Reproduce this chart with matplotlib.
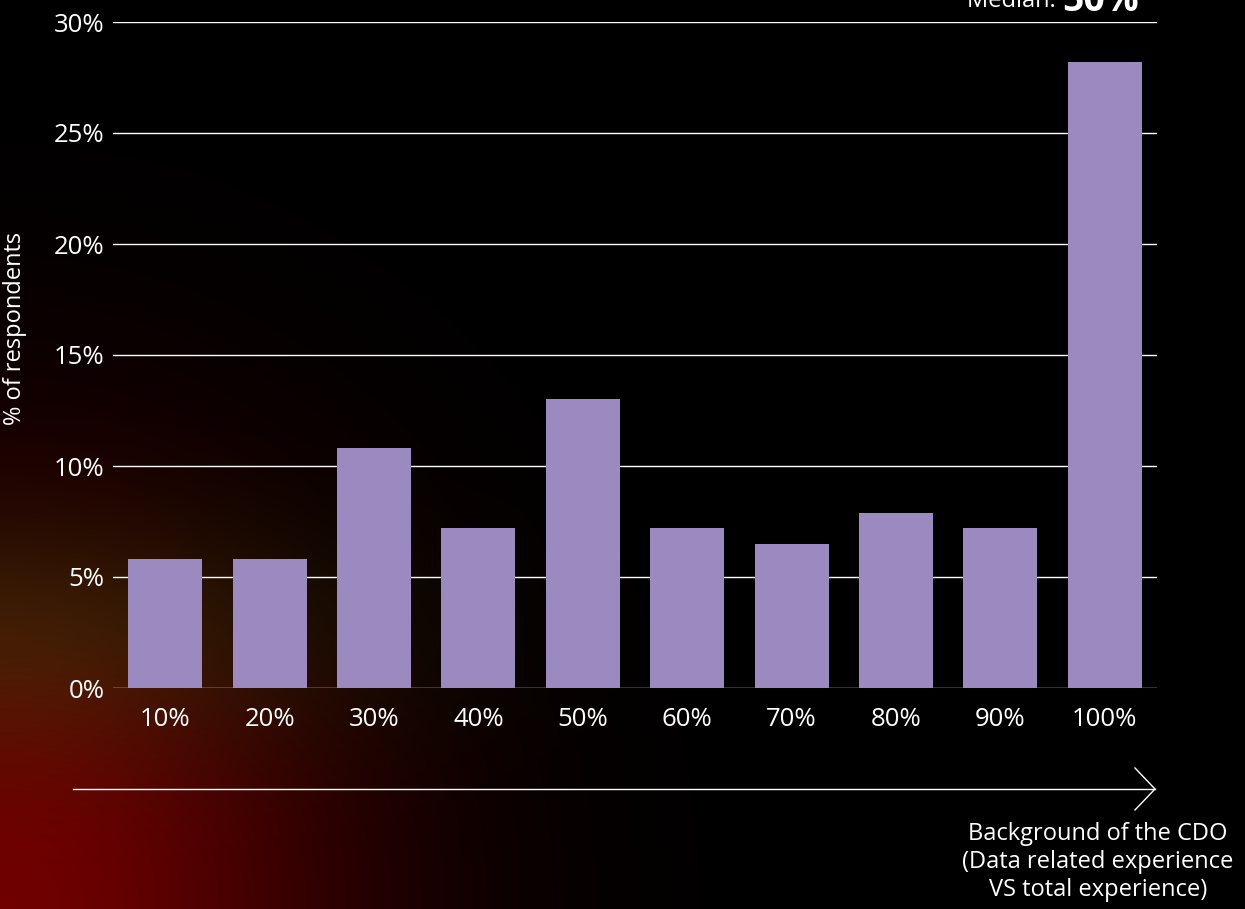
import numpy as np
import matplotlib.pyplot as plt

# data
categories = ['10%', '20%', '30%', '40%', '50%', '60%', '70%', '80%', '90%', '100%']
respondents = [5.8, 5.8, 10.8, 7.2, 13.0, 7.2, 6.5, 7.9, 7.2, 28.2]
yticks = [0, 5, 10, 15, 20, 25, 30]

plt.rcParams['font.family'] = ['Open Sans', 'DejaVu Sans']

fig = plt.figure(figsize=(12.45, 9.09), dpi=100)
fig.patch.set_facecolor('black')

# soft glow from the bottom-left corner
bg = fig.add_axes([0, 0, 1, 1])
h, w = 300, 400
u = np.linspace(0, 1, w)[None, :]
v = np.linspace(1, 0, h)[:, None]
base = np.exp(-((u / 0.28) ** 2 + (v / 0.42) ** 2))
band = np.exp(-((v - 0.33) / 0.14) ** 2)
R = 0.44 * base
G = 0.2 * base * band
B = 0.03 * base * band
img = np.dstack([R, G, B])
bg.imshow(img, extent=[0, 1, 0, 1], aspect='auto', interpolation='bilinear')
bg.set_xlim(0, 1)
bg.set_ylim(0, 1)
bg.axis('off')

ax = fig.add_axes([113 / 1245, 1 - 688 / 909, (1157 - 113) / 1245, (688 - 22) / 909])
ax.patch.set_alpha(0)
x = np.arange(len(categories))
ax.bar(x, respondents, width=0.71, color='#9b8ac0', zorder=3)
ax.set_xlim(-0.5, len(categories) - 0.5)
ax.set_ylim(0, 30)
ax.set_yticks(yticks)
ax.set_yticklabels([f'{t}%' for t in yticks])
ax.set_xticks(x)
ax.set_xticklabels(categories)
ax.yaxis.grid(True, color='white', linewidth=1, zorder=0)
ax.tick_params(axis='both', length=0, colors='white', labelsize=18.5)
ax.tick_params(axis='y', pad=6)
ax.tick_params(axis='x', pad=14)
for s in ax.spines.values():
    s.set_visible(False)
ax.set_ylabel('% of respondents', color='white', fontsize=17)
ax.yaxis.set_label_coords(-0.082, 0.54)

# arrow along the bottom
fig.add_artist(plt.Line2D([73 / 1245, 1155 / 1245], [1 - 789 / 909, 1 - 789 / 909],
                          color='white', linewidth=1))
fig.add_artist(plt.Line2D([1135 / 1245, 1155 / 1245, 1135 / 1245],
                          [1 - 768 / 909, 1 - 789 / 909, 1 - 810 / 909],
                          color='white', linewidth=1))

fig.text(1098 / 1245, 1 - 862 / 909,
         'Background of the CDO\n(Data related experience\nVS total experience)',
         color='white', fontsize=17, ha='center', va='center', linespacing=1.2)

# median note, cut by the top edge as in the original
fig.text(1062 / 1245, 1 - 1 / 909, 'Median: ', color='white', fontsize=17,
         ha='right', va='center')
fig.text(1062 / 1245, 1 - 1 / 909, '50%', color='white', fontsize=27,
         fontweight='bold', ha='left', va='center')

fig.savefig('out.png', dpi=100, facecolor=fig.get_facecolor())
